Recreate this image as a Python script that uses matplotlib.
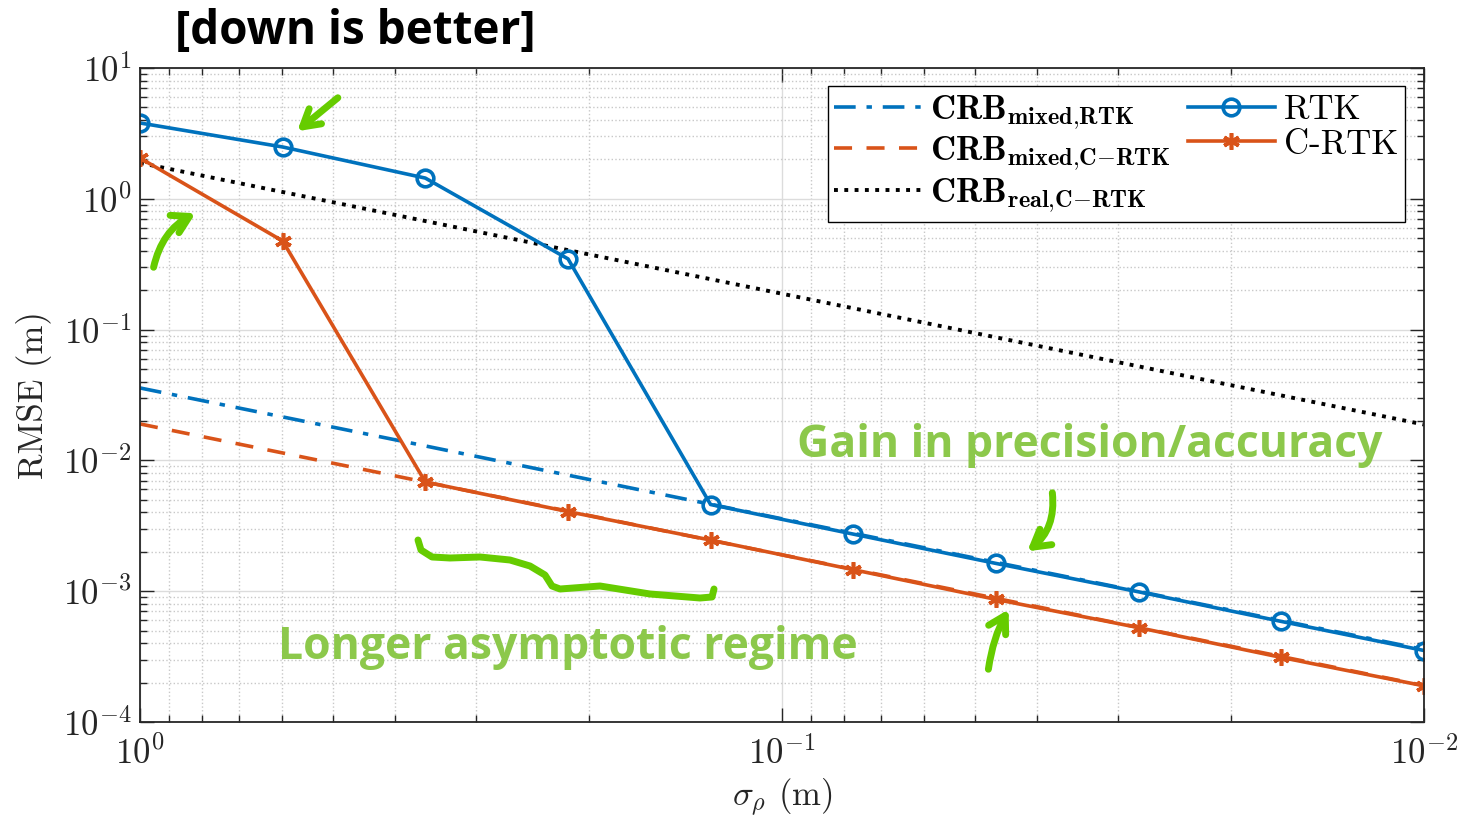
# RMSE vs pseudorange noise: RTK / C-RTK against their CRBs
import matplotlib.pyplot as plt
from matplotlib.ticker import LogLocator, NullFormatter

plt.rcParams["font.family"] = "serif"
plt.rcParams["font.serif"] = ["cmr10"]
plt.rcParams["mathtext.fontset"] = "cm"
plt.rcParams["axes.formatter.use_mathtext"] = True

# sigma_rho (m), the 10 simulated noise levels
sigma = [1.0, 0.5995, 0.3594, 0.2154, 0.1292, 0.0774, 0.0464, 0.0278, 0.0167, 0.01]

# RMSE (m)
rtk = [3.80, 2.49, 1.44, 0.347, 0.00460, 0.00273, 0.00163, 0.000988, 0.000588, 0.000352]
crtk = [2.05, 0.476, 0.00684, 0.00406, 0.00246, 0.00146, 0.000865, 0.000526, 0.000312, 0.000189]

# bounds (m)
crb_mixed_rtk = [0.0358, 0.0215, 0.0129, 0.00771, 0.00462, 0.00277, 0.00166, 0.000996, 0.000597, 0.000358]
crb_mixed_crtk = [0.0190, 0.0114, 0.00683, 0.00409, 0.00245, 0.00147, 0.000882, 0.000528, 0.000317, 0.000190]
crb_real_crtk = [1.88, 1.127, 0.676, 0.405, 0.243, 0.1455, 0.0872, 0.0523, 0.0314, 0.0188]

blue = "#0072BD"
orange = "#D95319"
green = "#66CC00"
green_txt = "#8CC84B"

fig = plt.figure(figsize=(14.6, 8.23), dpi=100)
ax = fig.add_axes([140 / 1460, 1 - 722 / 823, (1424 - 140) / 1460, (722 - 68) / 823])

ax.plot(sigma, crb_mixed_rtk, "-.", color=blue, lw=2.6, dashes=(6, 3, 1.5, 3),
        label=r"$\mathbf{CRB}_{\mathbf{mixed{,}RTK}}$")
ax.plot(sigma, crb_mixed_crtk, "--", color=orange, lw=2.6, dashes=(5, 4),
        label=r"$\mathbf{CRB}_{\mathbf{mixed{,}C{-}RTK}}$")
ax.plot(sigma, crb_real_crtk, ":", color="black", lw=2.8,
        label=r"$\mathbf{CRB}_{\mathbf{real{,}C{-}RTK}}$")
ax.plot(sigma, rtk, "-o", color=blue, lw=2.6, ms=12, mfc="none", mew=2.6, label="RTK")
ax.plot(sigma, crtk, "-", marker=(6, 2, 0), color=orange, lw=2.6, ms=12, mew=2.6, label="C-RTK")

ax.set_xscale("log")
ax.set_yscale("log")
ax.set_xlim(1, 0.01)
ax.set_ylim(1e-4, 1e1)
ax.yaxis.set_major_locator(LogLocator(base=10, numticks=10))
ax.yaxis.set_minor_locator(LogLocator(base=10, subs=range(2, 10), numticks=20))
ax.yaxis.set_minor_formatter(NullFormatter())
ax.xaxis.set_minor_formatter(NullFormatter())

ax.grid(True, which="major", color="#dcdcdc", lw=1)
ax.grid(True, which="minor", color="#c8c8c8", ls=":", lw=1)
ax.set_axisbelow(True)
ax.tick_params(which="both", direction="in", top=True, right=True, labelsize=25, colors="#262626")
ax.tick_params(which="major", length=10, width=1)
ax.tick_params(which="minor", length=5, width=1)
ax.tick_params(axis="x", pad=10)
ax.tick_params(axis="y", pad=6)
for s in ax.spines.values():
    s.set_color("#262626")
    s.set_linewidth(1.3)

ax.set_xlabel(r"$\sigma_\rho$ (m)", fontsize=25, color="#262626", labelpad=4)
ax.set_ylabel("RMSE (m)", fontsize=25, color="#262626", labelpad=8)

leg = ax.legend(ncol=2, loc="upper right", bbox_to_anchor=(0.985, 0.972), fontsize=25,
                frameon=True, fancybox=False, framealpha=1, edgecolor="black",
                handlelength=2.5, handletextpad=0.25, columnspacing=0.5,
                labelspacing=0.08, borderpad=0.2, borderaxespad=0.0)
leg.get_frame().set_linewidth(1.0)

# title and hand annotations
fig.text(175 / 1460, 1 - 32 / 823, "[down is better]", family="Open Sans", weight="bold",
         fontsize=33, va="center", ha="left")
fig.text(797 / 1460, 1 - 445 / 823, "Gain in precision/accuracy", family="Open Sans",
         weight="bold", fontsize=32, color=green_txt, va="center", ha="left")
fig.text(278 / 1460, 1 - 647 / 823, "Longer asymptotic regime", family="Open Sans",
         weight="bold", fontsize=32, color=green_txt, va="center", ha="left")


def px(x, y):
    return (x / 1460, 1 - y / 823)


arrows = [
    ((340, 96), (295, 133), 0.0),
    ((153, 270), (198, 212), -0.25),
    ((1052, 490), (1025, 553), -0.3),
    ((988, 672), (1010, 607), -0.1),
]
for start, end, rad in arrows:
    ax.annotate("", xy=px(*end), xycoords="figure fraction", xytext=px(*start),
                textcoords="figure fraction",
                arrowprops=dict(arrowstyle="->,head_length=1.2,head_width=0.7", color=green,
                                lw=5, connectionstyle=f"arc3,rad={rad}",
                                capstyle="round", joinstyle="round"))

brace_x = [418, 421, 432, 450, 480, 510, 530, 545, 552, 560, 600, 650, 700, 712, 714]
brace_y = [540, 550, 557, 558, 557, 560, 566, 575, 586, 589, 586, 594, 598, 597, 589]
fig.lines.append(plt.Line2D([x / 1460 for x in brace_x], [1 - y / 823 for y in brace_y],
                            transform=fig.transFigure, color=green, lw=5,
                            solid_capstyle="round", solid_joinstyle="round"))

fig.savefig("out.png", dpi=100)
